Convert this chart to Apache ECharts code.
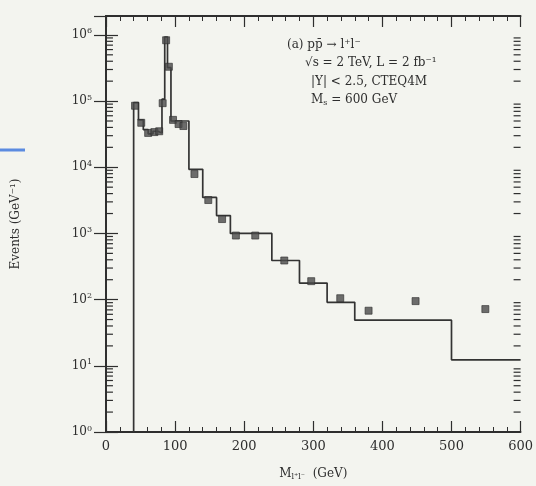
<!DOCTYPE html>
<html><head><meta charset="utf-8">
<script src="https://cdn.jsdelivr.net/npm/echarts@6/dist/echarts.min.js"></script>
<style>html,body{margin:0;padding:0;background:#f3f4ef}#c{width:536px;height:486px}</style>
</head><body><div id="c"></div>
<script>
// Histogram bin edges (GeV) and bin contents (events / GeV)
const binEdges = [40, 47, 54, 61, 68, 75, 81, 85, 89, 94, 120, 140, 160, 180, 240, 280, 320, 360, 500, 600];
const binValues = [9.5e4, 5.2e4, 3.7e4, 3.2e4, 3.5e4, 3.3e4, 1.07e5, 9.3e5, 3.2e5, 5.0e4, 9300, 3500, 1860, 1000, 390, 178, 91, 49, 12.3];
// Data points (squares)
const pointMass = [42, 51, 61, 70, 77, 82, 87, 91, 97, 105, 112, 128, 148, 168, 188, 216, 258, 297, 339, 380, 448, 549];
const pointValues = [8.5e4, 4.7e4, 3.3e4, 3.4e4, 3.5e4, 9.3e4, 8.3e5, 3.3e5, 5.2e4, 4.5e4, 4.2e4, 7900, 3200, 1650, 930, 930, 390, 190, 105, 68, 95, 72];
// Tick labels
const xTickLabels = ['0', '100', '200', '300', '400', '500', '600'];
const yTickExponents = [0, 1, 2, 3, 4, 5, 6];

const X_MIN = 0, X_MAX = 600, Y_MIN = 1, Y_MAX = 1.93e6;
const FONT = 'DejaVu Serif';
const INK = '#2e2e2e';

const histData = [[binEdges[0], Y_MIN]];
for (let i = 0; i < binValues.length; i++) histData.push([binEdges[i], binValues[i]]);
histData.push([binEdges[binEdges.length - 1], binValues[binValues.length - 1]]);

const pts = pointMass.map((m, i) => [m, pointValues[i]]);

// log minor tick positions (2..9 x 10^n) for the frame
const minorLeft = [], minorRight = [];
for (let e = 0; e <= 6; e++) for (let m = 2; m <= 9; m++) {
  const v = m * Math.pow(10, e);
  if (v < Y_MAX) { minorLeft.push([X_MIN + 4, v]); minorRight.push([X_MAX, v]); }
}

function yLabel(v) {
  const e = Math.log10(v);
  const r = Math.round(e);
  if (Math.abs(e - r) > 1e-6 || yTickExponents.indexOf(r) < 0) return '';
  return '{b|10}{s|' + r + '}';
}

function minorSeries(data, off) {
  return {
    type: 'scatter', data: data, silent: true, z: 10, clip: false,
    symbol: 'rect', symbolSize: [7, 1.2], symbolOffset: [off, 0],
    itemStyle: { color: INK, opacity: 1 }, animation: false
  };
}

const axisLineStyle = { color: INK, width: 1.8 };
const chart = echarts.init(document.getElementById('c'));
chart.setOption({
  backgroundColor: '#f3f4ef',
  animation: false,
  grid: { left: 106, right: 13, top: 16, bottom: 52 },
  xAxis: [{
    type: 'value', min: X_MIN, max: X_MAX, interval: 100, position: 'bottom',
    axisLine: { show: true, lineStyle: axisLineStyle },
    axisTick: { show: true, inside: true, length: 11, lineStyle: { color: INK, width: 1.2 } },
    minorTick: { show: true, splitNumber: 5, length: 5, lineStyle: { color: INK, width: 1 } },
    splitLine: { show: false },
    axisLabel: { margin: 8, fontFamily: FONT, fontSize: 13, color: INK,
      formatter: v => xTickLabels[Math.round(v / 100)] || '' },
    name: '{n|M}{s|l⁺l⁻}{n|  (GeV)}', nameLocation: 'middle', nameGap: 34,
    nameTextStyle: { rich: {
      n: { fontFamily: FONT, fontSize: 12, color: INK },
      s: { fontFamily: FONT, fontSize: 8, color: INK, padding: [7, 0, 0, 0] }
    } }
  }, {
    type: 'value', min: X_MIN, max: X_MAX, interval: 100, position: 'top',
    axisLine: { show: true, lineStyle: axisLineStyle },
    axisTick: { show: true, inside: true, length: 11, lineStyle: { color: INK, width: 1.2 } },
    minorTick: { show: true, splitNumber: 5, length: 5, lineStyle: { color: INK, width: 1 } },
    splitLine: { show: false }, axisLabel: { show: false }
  }],
  yAxis: [{
    type: 'log', logBase: 10, min: Y_MIN, max: Y_MAX, position: 'left',
    axisLine: { show: true, lineStyle: axisLineStyle },
    axisTick: { show: true, inside: true, length: 12, lineStyle: { color: INK, width: 1.2 } },
    splitLine: { show: false },
    axisLabel: { margin: 14, formatter: yLabel, showMaxLabel: false, rich: {
      b: { fontFamily: FONT, fontSize: 12, color: INK },
      s: { fontFamily: FONT, fontSize: 8, color: INK, padding: [0, 0, 7, 0] }
    } },
    name: 'Events (GeV⁻¹)', nameLocation: 'middle', nameGap: 84, nameRotate: 90,
    nameTextStyle: { fontFamily: FONT, fontSize: 12, color: INK }
  }, {
    type: 'log', logBase: 10, min: Y_MIN, max: Y_MAX, position: 'right',
    axisLine: { show: true, lineStyle: axisLineStyle },
    axisTick: { show: true, inside: true, length: 12, lineStyle: { color: INK, width: 1.2 } },
    splitLine: { show: false }, axisLabel: { show: false }
  }],
  series: [{
    type: 'line', step: 'end', data: histData, showSymbol: false, symbol: 'none',
    lineStyle: { color: '#333', width: 1.7 }, z: 3, silent: true
  }, {
    type: 'scatter', data: pts, symbol: 'rect', symbolSize: 7,
    itemStyle: { color: '#4a4a4a', borderColor: '#2e2e2e', borderWidth: 0.8 }, z: 4, silent: true
  },
  minorSeries(minorLeft, 0.7),
  minorSeries(minorRight, -3.5)
  ],
  graphic: [
    { type: 'text', left: 287, top: 39, style: { text: '(a) pp̄ → l⁺l⁻', font: '12px "DejaVu Serif"', fill: INK } },
    { type: 'text', left: 305, top: 57, style: { text: '√s = 2 TeV, L = 2 fb⁻¹', font: '12px "DejaVu Serif"', fill: INK } },
    { type: 'text', left: 311, top: 76, style: { text: '|Y| < 2.5, CTEQ4M', font: '12px "DejaVu Serif"', fill: INK } },
    { type: 'text', left: 311, top: 94, style: { text: '{n|M}{s|s}{n| = 600 GeV}', rich: {
      n: { fontFamily: FONT, fontSize: 12, fill: INK },
      s: { fontFamily: FONT, fontSize: 8, fill: INK, padding: [5, 0, 0, 0] }
    } } },
    { type: 'line', shape: { x1: 0, y1: 150, x2: 25, y2: 150 }, style: { stroke: '#5b8be0', lineWidth: 3 } }
  ]
});
</script></body></html>
